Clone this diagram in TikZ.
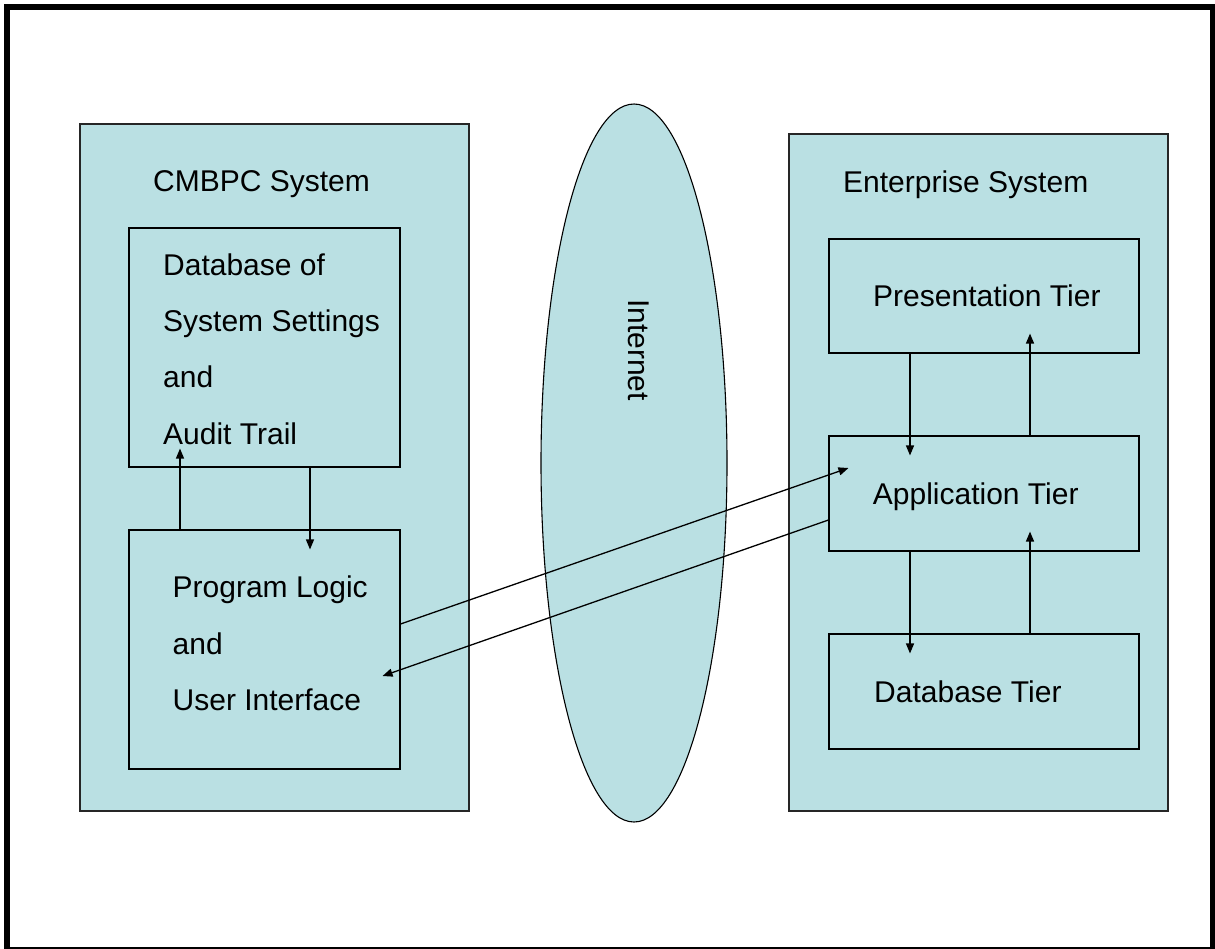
\documentclass[tikz,border=0pt]{standalone}
\usepackage{fontspec}
\setmainfont{Liberation Sans}
\usetikzlibrary{arrows.meta,shapes.geometric}

\definecolor{paleblue}{RGB}{186,224,227}

\tikzset{
  panel/.style={draw=black!85, line width=1.2pt, fill=paleblue,
    rectangle, inner sep=0pt},
  tier/.style={draw=black, line width=1.1pt, fill=paleblue,
    rectangle, inner sep=0pt},
  lbl/.style={anchor=base west, inner sep=0pt,
    font=\fontsize{30}{36}\selectfont},
  arr/.style={line width=1.3pt, -{Triangle[length=10pt,width=8pt]}}
}

\begin{document}
\begin{tikzpicture}[x=1pt,y=-1pt]
    \useasboundingbox (0,0) rectangle (1215,948);
    \fill[white] (0,0) rectangle (1215,948);
    \draw[line width=6pt] (7,7) rectangle (1213,950);

    % left side: CMBPC system
    \node[panel, minimum width=389pt, minimum height=687pt] (cmbpc) at (274.5,467.5) {};
    \node[lbl] (cmbpctitle) at (153,191.7) {CMBPC System};
    \node[tier, minimum width=271pt, minimum height=239pt] (db) at (264.5,347.5) {};
    \node[tier, minimum width=271pt, minimum height=239pt] (prog) at (264.5,649.5) {};
    \foreach \y/\t [count=\i] in {275.7/Database of,331.7/System Settings,
      387.7/and,444/Audit Trail}
      \node[lbl] (dbline\i) at (163,\y) {\t};
    \foreach \y/\t [count=\i] in {597/Program Logic,654/and,710.7/User Interface}
      \node[lbl] (progline\i) at (172.5,\y) {\t};

    % internet in the middle
    \node[ellipse, draw=black, line width=1.1pt, fill=paleblue, inner sep=0pt,
      minimum width=186pt, minimum height=718pt] (net) at (634,463) {};
    \node[anchor=base, inner sep=0pt, rotate=-90,
      font=\fontsize{30}{36}\selectfont] (netlabel) at (628,350) {Internet};

    % right side: enterprise system
    \node[panel, minimum width=379pt, minimum height=677pt] (ent) at (978.5,472.5) {};
    \node[lbl] (enttitle) at (843,192.3) {Enterprise System};
    \node[tier, minimum width=310pt, minimum height=114pt] (pres) at (984,296) {};
    \node[tier, minimum width=310pt, minimum height=115pt] (app) at (984,493.5) {};
    \node[tier, minimum width=310pt, minimum height=115pt] (dbt) at (984,691.5) {};
    \node[lbl] (preslabel) at (873,306.7) {Presentation Tier};
    \node[lbl] (applabel) at (872.7,504.3) {Application Tier};
    \node[lbl] (dbtlabel) at (874,702.3) {Database Tier};

    % arrows between the CMBPC boxes
    \draw[arr] ([xshift=-84.5pt]prog.north) -- ([xshift=-84.5pt,yshift=19pt]db.south);
    \draw[arr] ([xshift=45.5pt]db.south) -- ([xshift=45.5pt,yshift=-20pt]prog.north);

    % arrows between the tiers
    \foreach \top/\bot in {pres/app,app/dbt}{
      \draw[arr] ([xshift=-74pt]\top.south) -- ([xshift=-74pt,yshift=-20pt]\bot.north);
      \draw[arr] ([xshift=46pt]\bot.north) -- ([xshift=46pt,yshift=20pt]\top.south);}

    % traffic across the internet
    \draw[arr] ([yshift=25.5pt]prog.east) -- ([xshift=20pt,yshift=25.5pt]app.west);
    \draw[arr] ([yshift=-26.5pt]app.west) -- ([xshift=-18pt,yshift=-26.5pt]prog.east);
\end{tikzpicture}
\end{document}
